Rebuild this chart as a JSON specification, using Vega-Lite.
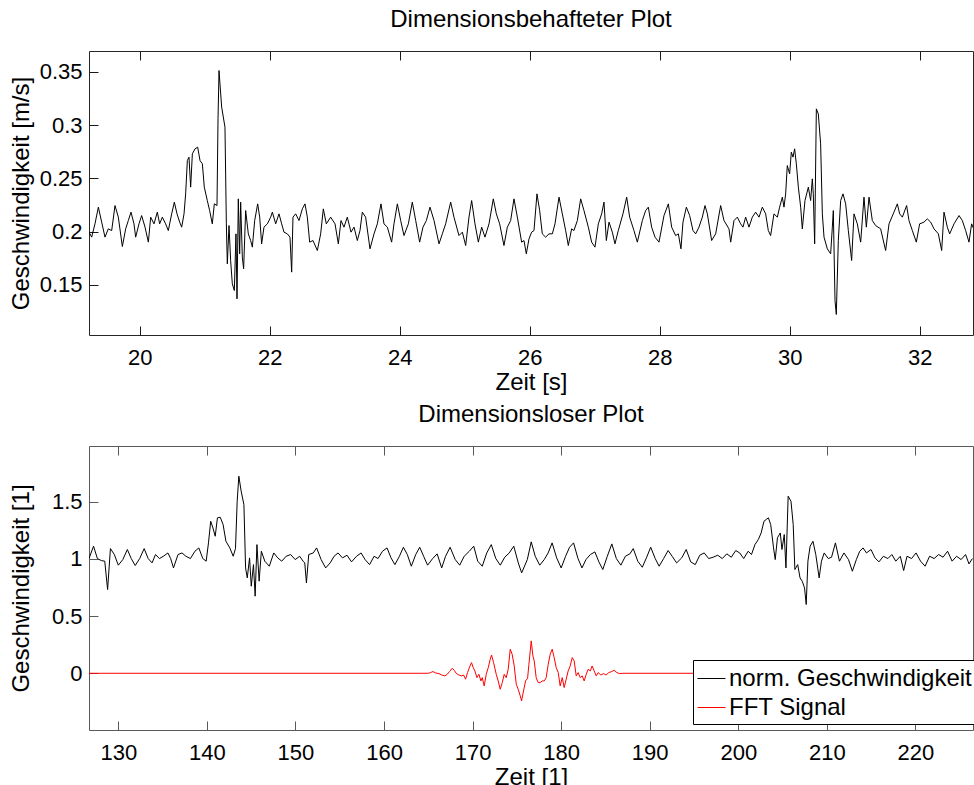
{
  "$schema": "https://vega.github.io/schema/vega-lite/v6.json",
  "background": "white",
  "padding": {"left": 8, "top": 7, "right": 0, "bottom": 0},
  "config": {
    "font": "Liberation Sans",
    "view": {"stroke": null},
    "axis": {
      "grid": false, "domain": false, "offset": -9,
      "labelFont": "Liberation Sans", "titleFont": "Liberation Sans",
      "labelFontSize": 22, "titleFontSize": 24, "titleFontWeight": "normal",
      "labelColor": "black", "titleColor": "black",
      "tickColor": "#1a1a1a", "tickSize": 9, "tickWidth": 1
    },
    "title": {"font": "Liberation Sans", "fontSize": 24, "fontWeight": "normal", "color": "black", "baseline": "alphabetic", "offset": 19}
  },
  "datasets": {
    "top": [
      {"t":19.218,"v":0.1994},{"t":19.259,"v":0.1947},{"t":19.310,"v":0.2072},{"t":19.362,"v":0.2229},{"t":19.413,"v":0.2088},{"t":19.464,"v":0.1947},{"t":19.515,"v":0.2025},{"t":19.567,"v":0.2009},{"t":19.618,"v":0.2244},{"t":19.669,"v":0.2135},
      {"t":19.731,"v":0.1859},{"t":19.782,"v":0.2025},{"t":19.823,"v":0.2103},{"t":19.864,"v":0.2182},{"t":19.910,"v":0.2072},{"t":19.936,"v":0.1947},{"t":19.987,"v":0.2072},{"t":20.028,"v":0.2150},{"t":20.080,"v":0.2041},{"t":20.131,"v":0.1900},
      {"t":20.167,"v":0.2135},{"t":20.218,"v":0.2072},{"t":20.269,"v":0.2182},{"t":20.305,"v":0.2072},{"t":20.346,"v":0.2135},{"t":20.397,"v":0.2072},{"t":20.438,"v":0.2009},{"t":20.490,"v":0.2166},{"t":20.531,"v":0.2276},{"t":20.572,"v":0.2166},
      {"t":20.613,"v":0.2088},{"t":20.644,"v":0.2041},{"t":20.680,"v":0.2166},{"t":20.705,"v":0.2354},{"t":20.731,"v":0.2667},{"t":20.756,"v":0.2699},{"t":20.782,"v":0.2417},{"t":20.808,"v":0.2730},{"t":20.849,"v":0.2777},{"t":20.890,"v":0.2793},
      {"t":20.926,"v":0.2667},{"t":20.962,"v":0.2636},{"t":20.992,"v":0.2417},{"t":21.038,"v":0.2291},{"t":21.074,"v":0.2197},{"t":21.115,"v":0.2072},{"t":21.146,"v":0.2260},{"t":21.187,"v":0.2244},{"t":21.203,"v":0.3059},{"t":21.218,"v":0.3513},
      {"t":21.259,"v":0.3169},{"t":21.310,"v":0.2981},{"t":21.331,"v":0.2072},{"t":21.346,"v":0.1696},{"t":21.372,"v":0.2056},{"t":21.397,"v":0.1727},{"t":21.423,"v":0.1508},{"t":21.454,"v":0.1445},{"t":21.479,"v":0.1978},{"t":21.495,"v":0.1367},
      {"t":21.515,"v":0.2307},{"t":21.536,"v":0.1790},{"t":21.551,"v":0.2276},{"t":21.577,"v":0.1759},{"t":21.597,"v":0.1649},{"t":21.628,"v":0.2197},{"t":21.669,"v":0.1978},{"t":21.705,"v":0.1915},{"t":21.731,"v":0.1853},{"t":21.767,"v":0.2103},
      {"t":21.813,"v":0.2260},{"t":21.844,"v":0.2135},{"t":21.874,"v":0.1884},{"t":21.910,"v":0.2041},{"t":21.962,"v":0.2072},{"t":22.013,"v":0.2135},{"t":22.039,"v":0.2182},{"t":22.090,"v":0.2072},{"t":22.141,"v":0.2166},{"t":22.182,"v":0.2072},
      {"t":22.218,"v":0.1994},{"t":22.269,"v":0.1978},{"t":22.310,"v":0.1947},{"t":22.336,"v":0.1618},{"t":22.356,"v":0.2135},{"t":22.397,"v":0.2166},{"t":22.449,"v":0.2103},{"t":22.500,"v":0.2213},{"t":22.541,"v":0.2260},{"t":22.577,"v":0.2135},
      {"t":22.613,"v":0.1900},{"t":22.664,"v":0.1915},{"t":22.731,"v":0.1821},{"t":22.782,"v":0.1978},{"t":22.823,"v":0.2213},{"t":22.869,"v":0.2072},{"t":22.936,"v":0.2135},{"t":23.003,"v":0.2072},{"t":23.054,"v":0.1884},{"t":23.095,"v":0.2103},
      {"t":23.141,"v":0.2041},{"t":23.192,"v":0.2135},{"t":23.249,"v":0.1994},{"t":23.295,"v":0.2041},{"t":23.346,"v":0.1915},{"t":23.387,"v":0.2009},{"t":23.423,"v":0.2182},{"t":23.474,"v":0.2135},{"t":23.541,"v":0.1837},{"t":23.603,"v":0.1978},
      {"t":23.654,"v":0.2072},{"t":23.710,"v":0.2260},{"t":23.756,"v":0.2072},{"t":23.808,"v":0.2041},{"t":23.874,"v":0.1900},{"t":23.910,"v":0.2072},{"t":23.962,"v":0.2260},{"t":24.013,"v":0.2103},{"t":24.064,"v":0.1962},{"t":24.131,"v":0.2072},
      {"t":24.192,"v":0.2276},{"t":24.244,"v":0.2103},{"t":24.305,"v":0.1900},{"t":24.356,"v":0.2041},{"t":24.408,"v":0.2103},{"t":24.464,"v":0.2229},{"t":24.526,"v":0.2103},{"t":24.603,"v":0.1884},{"t":24.654,"v":0.1978},{"t":24.705,"v":0.2072},
      {"t":24.782,"v":0.2276},{"t":24.833,"v":0.2135},{"t":24.910,"v":0.1962},{"t":24.962,"v":0.1994},{"t":25.013,"v":0.1868},{"t":25.064,"v":0.2135},{"t":25.105,"v":0.2291},{"t":25.156,"v":0.2072},{"t":25.208,"v":0.1900},{"t":25.259,"v":0.2041},
      {"t":25.310,"v":0.1947},{"t":25.372,"v":0.2072},{"t":25.438,"v":0.2307},{"t":25.485,"v":0.2166},{"t":25.536,"v":0.2072},{"t":25.602,"v":0.1868},{"t":25.654,"v":0.2041},{"t":25.705,"v":0.2103},{"t":25.756,"v":0.2307},{"t":25.808,"v":0.2135},
      {"t":25.874,"v":0.1900},{"t":25.910,"v":0.1915},{"t":25.946,"v":0.1790},{"t":25.987,"v":0.1931},{"t":26.028,"v":0.1994},{"t":26.064,"v":0.2009},{"t":26.110,"v":0.2354},{"t":26.151,"v":0.2197},{"t":26.192,"v":0.1978},{"t":26.243,"v":0.1947},
      {"t":26.295,"v":0.1978},{"t":26.346,"v":0.1978},{"t":26.387,"v":0.2072},{"t":26.449,"v":0.2323},{"t":26.500,"v":0.2166},{"t":26.551,"v":0.2009},{"t":26.592,"v":0.1868},{"t":26.643,"v":0.2025},{"t":26.679,"v":0.2009},{"t":26.731,"v":0.2103},
      {"t":26.782,"v":0.2307},{"t":26.833,"v":0.2197},{"t":26.900,"v":0.2041},{"t":26.951,"v":0.1900},{"t":27.002,"v":0.1853},{"t":27.054,"v":0.2072},{"t":27.105,"v":0.2166},{"t":27.141,"v":0.2276},{"t":27.177,"v":0.1915},{"t":27.218,"v":0.2088},
      {"t":27.269,"v":0.1994},{"t":27.310,"v":0.1884},{"t":27.361,"v":0.2009},{"t":27.433,"v":0.2166},{"t":27.490,"v":0.2323},{"t":27.536,"v":0.2135},{"t":27.602,"v":0.2009},{"t":27.654,"v":0.1900},{"t":27.731,"v":0.2103},{"t":27.782,"v":0.2197},
      {"t":27.823,"v":0.2229},{"t":27.874,"v":0.2041},{"t":27.926,"v":0.1947},{"t":27.987,"v":0.1900},{"t":28.064,"v":0.2150},{"t":28.131,"v":0.2260},{"t":28.182,"v":0.2041},{"t":28.243,"v":0.1962},{"t":28.285,"v":0.1978},{"t":28.325,"v":0.1837},
      {"t":28.356,"v":0.2088},{"t":28.408,"v":0.2229},{"t":28.459,"v":0.2150},{"t":28.510,"v":0.2009},{"t":28.551,"v":0.1978},{"t":28.602,"v":0.2041},{"t":28.654,"v":0.2135},{"t":28.695,"v":0.2244},{"t":28.731,"v":0.2166},{"t":28.797,"v":0.1915},
      {"t":28.859,"v":0.1978},{"t":28.936,"v":0.2244},{"t":28.987,"v":0.2103},{"t":29.064,"v":0.2025},{"t":29.090,"v":0.1900},{"t":29.141,"v":0.2103},{"t":29.192,"v":0.2135},{"t":29.243,"v":0.2072},{"t":29.279,"v":0.2041},{"t":29.320,"v":0.2135},
      {"t":29.372,"v":0.2041},{"t":29.423,"v":0.2135},{"t":29.474,"v":0.2182},{"t":29.526,"v":0.2135},{"t":29.577,"v":0.2229},{"t":29.628,"v":0.2166},{"t":29.669,"v":0.2009},{"t":29.705,"v":0.1962},{"t":29.756,"v":0.2166},{"t":29.808,"v":0.2135},
      {"t":29.843,"v":0.2229},{"t":29.885,"v":0.2323},{"t":29.910,"v":0.2229},{"t":29.936,"v":0.2354},{"t":29.961,"v":0.2620},{"t":29.997,"v":0.2542},{"t":30.023,"v":0.2746},{"t":30.049,"v":0.2699},{"t":30.074,"v":0.2777},{"t":30.100,"v":0.2636},
      {"t":30.131,"v":0.2417},{"t":30.167,"v":0.2229},{"t":30.192,"v":0.2025},{"t":30.233,"v":0.2291},{"t":30.285,"v":0.2417},{"t":30.320,"v":0.2291},{"t":30.346,"v":0.2495},{"t":30.361,"v":0.2354},{"t":30.382,"v":0.1884},{"t":30.408,"v":0.3153},
      {"t":30.438,"v":0.3106},{"t":30.474,"v":0.2824},{"t":30.500,"v":0.2166},{"t":30.526,"v":0.1947},{"t":30.577,"v":0.1837},{"t":30.628,"v":0.1790},{"t":30.654,"v":0.2041},{"t":30.669,"v":0.2197},{"t":30.695,"v":0.1351},{"t":30.715,"v":0.1220},
      {"t":30.746,"v":0.1915},{"t":30.782,"v":0.2291},{"t":30.818,"v":0.2354},{"t":30.859,"v":0.2260},{"t":30.900,"v":0.2009},{"t":30.951,"v":0.1727},{"t":30.987,"v":0.2166},{"t":31.038,"v":0.2072},{"t":31.090,"v":0.1900},{"t":31.141,"v":0.2323},
      {"t":31.177,"v":0.2041},{"t":31.218,"v":0.2323},{"t":31.269,"v":0.2103},{"t":31.320,"v":0.2056},{"t":31.397,"v":0.2025},{"t":31.474,"v":0.1821},{"t":31.526,"v":0.2072},{"t":31.602,"v":0.2182},{"t":31.654,"v":0.2260},{"t":31.690,"v":0.2166},
      {"t":31.731,"v":0.2135},{"t":31.797,"v":0.2244},{"t":31.833,"v":0.2103},{"t":31.885,"v":0.2009},{"t":31.946,"v":0.1900},{"t":31.997,"v":0.2072},{"t":32.064,"v":0.2088},{"t":32.115,"v":0.2119},{"t":32.167,"v":0.2088},{"t":32.218,"v":0.2025},
      {"t":32.285,"v":0.1978},{"t":32.336,"v":0.1821},{"t":32.372,"v":0.2182},{"t":32.423,"v":0.2041},{"t":32.459,"v":0.1978},{"t":32.526,"v":0.2072},{"t":32.603,"v":0.2150},{"t":32.654,"v":0.2103},{"t":32.705,"v":0.2009},{"t":32.756,"v":0.1900},
      {"t":32.797,"v":0.2072},{"t":32.828,"v":0.2025}
    ],
    "bottom": [
      {"t":126.69,"v":1.003},{"t":127.20,"v":1.111},{"t":127.64,"v":1.003},{"t":128.09,"v":0.985},{"t":128.47,"v":0.980},{"t":128.79,"v":0.732},{"t":129.11,"v":1.090},{"t":129.55,"v":1.038},{"t":130.00,"v":0.945},{"t":130.51,"v":0.994},
      {"t":131.02,"v":1.082},{"t":131.46,"v":1.003},{"t":131.91,"v":0.942},{"t":132.41,"v":1.003},{"t":132.92,"v":1.090},{"t":133.37,"v":1.003},{"t":133.81,"v":0.965},{"t":134.20,"v":1.038},{"t":134.64,"v":1.003},{"t":135.09,"v":1.023},
      {"t":135.60,"v":1.052},{"t":135.91,"v":1.003},{"t":136.23,"v":0.921},{"t":136.74,"v":1.038},{"t":137.19,"v":1.052},{"t":137.63,"v":1.023},{"t":138.14,"v":1.003},{"t":138.65,"v":1.067},{"t":139.09,"v":1.096},{"t":139.54,"v":1.003},
      {"t":139.92,"v":0.980},{"t":140.18,"v":1.140},{"t":140.43,"v":1.329},{"t":140.68,"v":1.271},{"t":140.94,"v":1.198},{"t":141.19,"v":1.359},{"t":141.51,"v":1.364},{"t":141.83,"v":1.300},{"t":142.15,"v":1.154},{"t":142.59,"v":1.096},
      {"t":142.97,"v":1.023},{"t":143.23,"v":1.090},{"t":143.42,"v":1.504},{"t":143.61,"v":1.723},{"t":143.87,"v":1.592},{"t":144.18,"v":1.475},{"t":144.37,"v":0.921},{"t":144.56,"v":0.834},{"t":144.82,"v":1.009},{"t":145.01,"v":0.761},
      {"t":145.26,"v":0.950},{"t":145.45,"v":0.674},{"t":145.65,"v":1.125},{"t":145.90,"v":0.805},{"t":146.15,"v":1.067},{"t":146.54,"v":0.980},{"t":147.05,"v":0.936},{"t":147.55,"v":1.052},{"t":148.00,"v":1.009},{"t":148.45,"v":0.980},
      {"t":148.95,"v":1.023},{"t":149.46,"v":1.038},{"t":149.97,"v":0.994},{"t":150.48,"v":1.023},{"t":150.86,"v":0.980},{"t":151.05,"v":0.965},{"t":151.24,"v":0.790},{"t":151.50,"v":1.038},{"t":152.01,"v":1.052},{"t":152.39,"v":1.096},
      {"t":152.90,"v":0.994},{"t":153.41,"v":0.921},{"t":153.92,"v":0.965},{"t":154.36,"v":1.023},{"t":154.81,"v":1.052},{"t":155.31,"v":1.009},{"t":155.82,"v":1.032},{"t":156.33,"v":0.974},{"t":156.90,"v":1.023},{"t":157.41,"v":1.052},
      {"t":157.86,"v":0.994},{"t":158.37,"v":0.950},{"t":158.88,"v":1.023},{"t":159.32,"v":1.003},{"t":159.83,"v":1.067},{"t":160.34,"v":1.096},{"t":160.79,"v":1.009},{"t":161.23,"v":0.950},{"t":161.74,"v":1.023},{"t":162.19,"v":1.102},
      {"t":162.63,"v":1.038},{"t":163.08,"v":0.936},{"t":163.58,"v":1.038},{"t":164.03,"v":1.102},{"t":164.47,"v":1.023},{"t":164.92,"v":0.945},{"t":165.49,"v":1.003},{"t":166.00,"v":1.044},{"t":166.51,"v":0.921},{"t":166.95,"v":1.023},
      {"t":167.46,"v":1.102},{"t":168.04,"v":0.994},{"t":168.55,"v":0.945},{"t":169.05,"v":1.023},{"t":169.63,"v":1.067},{"t":170.13,"v":1.111},{"t":170.58,"v":0.980},{"t":171.09,"v":0.936},{"t":171.60,"v":1.052},{"t":172.11,"v":1.125},
      {"t":172.62,"v":1.003},{"t":173.13,"v":0.945},{"t":173.63,"v":1.015},{"t":174.14,"v":1.052},{"t":174.65,"v":1.111},{"t":175.16,"v":0.965},{"t":175.54,"v":0.878},{"t":176.18,"v":0.994},{"t":176.62,"v":1.149},{"t":177.07,"v":1.023},
      {"t":177.58,"v":0.945},{"t":178.09,"v":0.994},{"t":178.53,"v":1.052},{"t":178.98,"v":1.140},{"t":179.49,"v":1.009},{"t":180.00,"v":0.921},{"t":180.50,"v":1.023},{"t":180.95,"v":1.102},{"t":181.40,"v":1.140},{"t":181.90,"v":1.003},
      {"t":182.35,"v":0.921},{"t":182.80,"v":0.994},{"t":183.30,"v":1.038},{"t":183.81,"v":1.061},{"t":184.26,"v":0.974},{"t":184.70,"v":0.907},{"t":185.21,"v":1.023},{"t":185.72,"v":1.131},{"t":186.23,"v":1.003},{"t":186.74,"v":0.945},
      {"t":187.25,"v":1.023},{"t":187.76,"v":1.044},{"t":188.14,"v":1.090},{"t":188.65,"v":0.980},{"t":189.16,"v":0.927},{"t":189.66,"v":1.015},{"t":190.11,"v":1.102},{"t":190.62,"v":1.003},{"t":191.06,"v":0.936},{"t":191.57,"v":1.003},
      {"t":192.08,"v":1.073},{"t":192.53,"v":1.023},{"t":193.04,"v":0.965},{"t":193.61,"v":1.009},{"t":194.12,"v":1.082},{"t":194.63,"v":0.974},{"t":195.14,"v":0.950},{"t":195.65,"v":1.032},{"t":196.15,"v":1.052},{"t":196.66,"v":1.003},
      {"t":197.17,"v":1.015},{"t":197.68,"v":1.032},{"t":198.19,"v":1.003},{"t":198.70,"v":1.044},{"t":199.21,"v":1.015},{"t":199.71,"v":1.073},{"t":200.16,"v":1.052},{"t":200.61,"v":1.003},{"t":201.11,"v":1.067},{"t":201.49,"v":1.038},
      {"t":201.88,"v":1.125},{"t":202.26,"v":1.169},{"t":202.58,"v":1.227},{"t":202.90,"v":1.329},{"t":203.15,"v":1.344},{"t":203.40,"v":1.359},{"t":203.66,"v":1.300},{"t":203.98,"v":1.096},{"t":204.17,"v":0.994},{"t":204.42,"v":1.184},
      {"t":204.74,"v":1.227},{"t":204.93,"v":1.082},{"t":205.19,"v":1.213},{"t":205.38,"v":0.921},{"t":205.63,"v":1.548},{"t":205.95,"v":1.504},{"t":206.20,"v":1.300},{"t":206.39,"v":0.907},{"t":206.71,"v":0.950},{"t":206.97,"v":0.834},
      {"t":207.22,"v":0.805},{"t":207.48,"v":0.746},{"t":207.67,"v":0.601},{"t":207.86,"v":0.980},{"t":208.11,"v":1.111},{"t":208.43,"v":1.154},{"t":208.75,"v":1.038},{"t":209.13,"v":0.834},{"t":209.39,"v":0.980},{"t":209.70,"v":1.052},
      {"t":210.15,"v":1.003},{"t":210.53,"v":1.015},{"t":210.97,"v":1.140},{"t":211.42,"v":0.980},{"t":211.93,"v":1.052},{"t":212.44,"v":0.994},{"t":212.88,"v":0.892},{"t":213.33,"v":0.994},{"t":213.71,"v":1.067},{"t":214.09,"v":1.096},
      {"t":214.47,"v":1.052},{"t":214.98,"v":1.082},{"t":215.43,"v":1.009},{"t":215.88,"v":0.974},{"t":216.38,"v":1.023},{"t":216.89,"v":1.003},{"t":217.34,"v":1.038},{"t":217.78,"v":0.980},{"t":218.29,"v":1.023},{"t":218.67,"v":0.898},
      {"t":219.05,"v":1.023},{"t":219.56,"v":1.003},{"t":220.07,"v":1.052},{"t":220.58,"v":0.980},{"t":221.09,"v":0.936},{"t":221.60,"v":1.023},{"t":222.11,"v":1.003},{"t":222.62,"v":1.038},{"t":223.12,"v":1.015},{"t":223.63,"v":1.067},
      {"t":224.14,"v":0.980},{"t":224.65,"v":1.023},{"t":225.16,"v":0.994},{"t":225.66,"v":1.038},{"t":226.05,"v":0.956},{"t":226.43,"v":1.003}
    ],
    "fft": [
      {"t":126.69,"v":0},{"t":165.00,"v":0},{"t":165.26,"v":0.006},{"t":165.52,"v":0.015},{"t":165.82,"v":0.003},{"t":166.20,"v":-0.003},{"t":166.57,"v":-0.017},{"t":166.87,"v":-0.023},{"t":167.14,"v":-0.009},{"t":167.40,"v":0.015},
      {"t":167.70,"v":0.044},{"t":167.93,"v":0.026},{"t":168.15,"v":0.000},{"t":168.45,"v":-0.015},{"t":168.76,"v":-0.023},{"t":168.98,"v":-0.015},{"t":169.21,"v":-0.052},{"t":169.43,"v":0.006},{"t":169.66,"v":0.055},{"t":169.88,"v":0.093},
      {"t":170.07,"v":0.050},{"t":170.26,"v":0.020},{"t":170.49,"v":-0.038},{"t":170.71,"v":-0.009},{"t":170.94,"v":-0.067},{"t":171.09,"v":-0.038},{"t":171.31,"v":-0.111},{"t":171.54,"v":-0.009},{"t":171.77,"v":0.050},{"t":171.99,"v":0.122},
      {"t":172.14,"v":0.160},{"t":172.37,"v":0.093},{"t":172.67,"v":-0.009},{"t":172.89,"v":-0.067},{"t":173.12,"v":-0.140},{"t":173.35,"v":-0.082},{"t":173.57,"v":-0.009},{"t":173.80,"v":-0.038},{"t":174.02,"v":0.035},{"t":174.25,"v":0.210},
      {"t":174.47,"v":0.166},{"t":174.70,"v":0.064},{"t":174.93,"v":-0.096},{"t":175.15,"v":-0.140},{"t":175.38,"v":-0.198},{"t":175.53,"v":-0.242},{"t":175.75,"v":-0.155},{"t":175.98,"v":-0.067},{"t":176.21,"v":-0.044},{"t":176.36,"v":0.079},
      {"t":176.51,"v":0.195},{"t":176.62,"v":0.283},{"t":176.81,"v":0.152},{"t":176.96,"v":0.108},{"t":177.18,"v":-0.038},{"t":177.41,"v":-0.082},{"t":177.63,"v":-0.082},{"t":177.86,"v":-0.067},{"t":178.09,"v":-0.067},{"t":178.31,"v":-0.038},
      {"t":178.54,"v":0.079},{"t":178.76,"v":0.166},{"t":178.99,"v":0.210},{"t":179.21,"v":0.137},{"t":179.44,"v":0.050},{"t":179.67,"v":0.006},{"t":179.89,"v":-0.111},{"t":180.12,"v":-0.038},{"t":180.34,"v":-0.125},{"t":180.57,"v":-0.052},
      {"t":180.79,"v":0.020},{"t":181.02,"v":0.064},{"t":181.25,"v":0.137},{"t":181.47,"v":0.108},{"t":181.70,"v":-0.023},{"t":181.92,"v":0.006},{"t":182.15,"v":-0.038},{"t":182.38,"v":-0.023},{"t":182.60,"v":-0.067},{"t":182.83,"v":-0.009},
      {"t":183.05,"v":0.035},{"t":183.28,"v":0.020},{"t":183.50,"v":0.064},{"t":183.73,"v":0.020},{"t":183.96,"v":-0.023},{"t":184.18,"v":0.006},{"t":184.48,"v":-0.015},{"t":184.78,"v":-0.003},{"t":185.08,"v":-0.015},{"t":185.38,"v":0.006},
      {"t":185.69,"v":0.015},{"t":185.99,"v":0.026},{"t":186.29,"v":0.006},{"t":186.59,"v":-0.003},{"t":186.97,"v":0},{"t":226.60,"v":0}
    ],
    "ticksTop": [{"t":20},{"t":22},{"t":24},{"t":26},{"t":28},{"t":30},{"t":32}],
    "ticksBottom": [{"t":130},{"t":140},{"t":150},{"t":160},{"t":170},{"t":180},{"t":190},{"t":200},{"t":210},{"t":220}]
  },
  "bounds": "flush",
  "spacing": 111,
  "resolve": {"scale": {"color": "independent"}, "legend": {"color": "independent"}},
  "vconcat": [
    {
      "width": 884,
      "height": 284,
      "title": {"text": "Dimensionsbehafteter Plot"},
      "view": {"stroke": "#262626", "strokeWidth": 1},
      "layer": [
        {
          "data": {"name": "top"},
          "mark": {"type": "line", "color": "black", "strokeWidth": 1, "clip": true},
          "encoding": {
            "x": {"field": "t", "type": "quantitative",
                  "scale": {"domain": [19.218, 32.818], "nice": false, "zero": false},
                  "axis": {"orient": "bottom", "values": [20, 22, 24, 26, 28, 30, 32], "title": "Zeit [s]",
                           "labelBaseline": "alphabetic", "labelPadding": 29, "titleY": 63, "titleBaseline": "alphabetic"}},
            "y": {"field": "v", "type": "quantitative",
                  "scale": {"domain": [0.1027, 0.3697], "nice": false, "zero": false},
                  "axis": {"orient": "left", "values": [0.15, 0.2, 0.25, 0.3, 0.35], "format": "~g", "title": "Geschwindigkeit [m/s]",
                           "labelPadding": 7, "titleX": -70, "titleBaseline": "alphabetic"}}
          }
        },
        {
          "data": {"name": "ticksTop"},
          "mark": {"type": "rule", "opacity": 0},
          "encoding": {
            "x": {"field": "t", "type": "quantitative",
                  "axis": {"orient": "top", "values": [20, 22, 24, 26, 28, 30, 32], "labels": false, "title": null}}
          }
        }
      ]
    },
    {
      "width": 884,
      "height": 284,
      "title": {"text": "Dimensionsloser Plot"},
      "view": {"stroke": "#595959", "strokeWidth": 1},
      "layer": [
        {
          "data": {"name": "bottom"},
          "mark": {"type": "line", "strokeWidth": 1, "clip": true},
          "encoding": {
            "x": {"field": "t", "type": "quantitative",
                  "scale": {"domain": [126.69, 226.5], "nice": false, "zero": false},
                  "axis": {"orient": "bottom", "values": [130, 140, 150, 160, 170, 180, 190, 200, 210, 220], "title": "Zeit [1]",
                           "tickColor": "#595959", "labelBaseline": "alphabetic", "labelPadding": 29, "titleY": 63, "titleBaseline": "alphabetic"}},
            "y": {"field": "v", "type": "quantitative",
                  "scale": {"domain": [-0.496, 1.987], "nice": false, "zero": false},
                  "axis": {"orient": "left", "values": [0, 0.5, 1, 1.5], "format": "~g", "title": "Geschwindigkeit [1]",
                           "tickColor": "#595959", "labelPadding": 7, "titleX": -70, "titleBaseline": "alphabetic"}},
            "color": {"datum": "norm. Geschwindigkeit", "type": "nominal",
                      "scale": {"domain": ["norm. Geschwindigkeit", "FFT Signal"], "range": ["#000000", "#ff0000"]},
                      "legend": {"orient": "none", "legendX": 604, "legendY": 214, "title": null,
                                 "symbolType": "stroke", "symbolSize": 784, "symbolStrokeWidth": 1,
                                 "labelFont": "Liberation Sans", "labelFontSize": 24, "labelColor": "black", "labelLimit": 400, "labelOffset": 3,
                                 "fillColor": "white", "strokeColor": "#000000", "padding": 4, "rowPadding": 2}}
          }
        },
        {
          "data": {"name": "fft"},
          "mark": {"type": "line", "strokeWidth": 1, "clip": true},
          "encoding": {
            "x": {"field": "t", "type": "quantitative", "axis": null},
            "y": {"field": "v", "type": "quantitative",
                  "axis": {"orient": "left", "values": [0, 0.5, 1, 1.5], "format": "~g", "title": "Geschwindigkeit [1]",
                           "tickColor": "#595959", "labelPadding": 7, "titleX": -70, "titleBaseline": "alphabetic"}},
            "color": {"datum": "FFT Signal", "type": "nominal"}
          }
        },
        {
          "data": {"name": "ticksBottom"},
          "mark": {"type": "rule", "opacity": 0},
          "encoding": {
            "x": {"field": "t", "type": "quantitative",
                  "axis": {"orient": "top", "values": [130, 140, 150, 160, 170, 180, 190, 200, 210, 220], "labels": false, "title": null, "tickColor": "#595959"}}
          }
        }
      ]
    }
  ]
}
